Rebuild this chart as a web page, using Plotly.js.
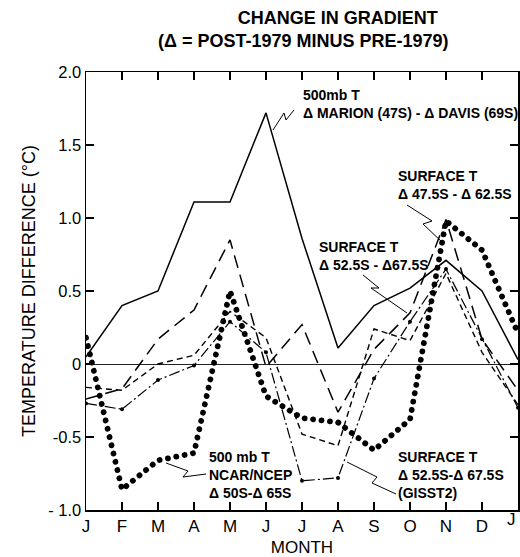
<!DOCTYPE html>
<html>
<head>
<meta charset="utf-8">
<script src="https://cdn.plot.ly/plotly-3.0.1.min.js"></script>
<style>
html,body{margin:0;padding:0;background:#fff;}
#chart{width:520px;height:557px;}
</style>
</head>
<body>
<div id="chart"></div>
<script>
// ---- data ----
const months = ['J','F','M','A','M','J','J','A','S','O','N','D','J'];
const monthIndex = [0,1,2,3,4,5,6,7,8,9,10,11,12];
const marionDavis500mb = [0.05, 0.40, 0.50, 1.11, 1.11, 1.72, 0.86, 0.11, 0.40, 0.52, 0.71, 0.50, 0.03];
const surface475_625   = [-0.24, -0.17, 0.17, 0.37, 0.85, -0.02, 0.27, -0.33, 0.10, 0.35, 0.99, 0.17, -0.18];
const surface525_675   = [-0.16, -0.18, 0.00, 0.06, 0.36, 0.18, -0.48, -0.56, 0.24, 0.16, 0.62, 0.08, -0.28];
const gisst2_525_675   = [-0.27, -0.31, -0.11, -0.01, 0.29, 0.08, -0.80, -0.78, -0.10, 0.29, 0.65, 0.17, -0.30];
const ncarNcep500mb    = [0.18, -0.86, -0.66, -0.61, 0.50, -0.22, -0.37, -0.40, -0.59, -0.38, 0.98, 0.78, 0.21];
const yTickVals = [2.0, 1.5, 1.0, 0.5, 0, -0.5, -1.0];
const yTickText = ['2.0', '1.5', '1.0', '0.5', '0', '-0.5', '- 1.0'];

// ---- layout geometry ----
const W = 520, H = 557;
const M = {l: 86, r: 2, t: 72, b: 47};
const plotW = W - M.l - M.r, plotH = H - M.t - M.b;
const xMin = 0, xMax = 12, yMin = -1, yMax = 2;
// pixel -> data helper for annotation leaders / label placement
function dx(px){ return xMin + (px - M.l) / plotW * (xMax - xMin); }
function dy(py){ return yMax - (py - M.t) / plotH * (yMax - yMin); }
function pathOf(pts){ return pts.map((p,i)=>(i?'L':'M')+dx(p[0]).toFixed(4)+','+dy(p[1]).toFixed(4)).join(' '); }

const FONT = 'Liberation Sans, Arial, Helvetica, sans-serif';
const BLK = '#000';

const traces = [
  {x: monthIndex, y: marionDavis500mb, mode: 'lines', name: '500mb T Δ MARION (47S) - Δ DAVIS (69S)',
   line: {color: BLK, width: 1.5}},
  {x: monthIndex, y: surface475_625, mode: 'lines', name: 'SURFACE T Δ 47.5S - Δ 62.5S',
   line: {color: BLK, width: 1.5, dash: '13px,7px'}},
  {x: monthIndex, y: surface525_675, mode: 'lines', name: 'SURFACE T Δ 52.5S - Δ67.5S',
   line: {color: BLK, width: 1.4, dash: '6px,4px'}},
  {x: monthIndex, y: gisst2_525_675, mode: 'lines+markers', name: 'SURFACE T Δ 52.5S-Δ 67.5S (GISST2)',
   line: {color: BLK, width: 1.2, dash: '11px,3px,2px,3px'}, marker: {color: BLK, size: 4}},
  {x: monthIndex, y: ncarNcep500mb, mode: 'lines', name: '500 mb T NCAR/NCEP Δ 50S-Δ 65S',
   line: {color: BLK, width: 5.8, dash: '0.1px,8.4px'}}
];

const annFont = {family: FONT, size: 14, color: BLK};
function lbl(text, px, py){
  return {text: text, x: dx(px), y: dy(py), xref: 'x', yref: 'y', xanchor: 'left', yanchor: 'middle',
          align: 'left', showarrow: false, font: annFont};
}

const annotations = [
  {text: '(Δ = POST-1979 MINUS PRE-1979)', xref: 'paper', yref: 'paper', x: (303 - M.l) / plotW, y: (H - M.b - 41) / plotH,
   xanchor: 'center', yanchor: 'middle', showarrow: false, font: {family: FONT, size: 18, color: BLK, weight: 'bold'}},
  lbl('<b>500mb T</b><br><b>Δ MARION (47S) - Δ DAVIS (69S)</b>', 301, 104),
  lbl('<b>SURFACE T</b><br><b>Δ 47.5S - Δ 62.5S</b>', 396, 185),
  lbl('<b>SURFACE T</b><br><b>Δ 52.5S - Δ67.5S</b>', 317, 256),
  lbl('<b>500 mb T</b><br><b>NCAR/NCEP</b><br><b>Δ 50S-Δ 65S</b>', 207, 475),
  lbl('<b>SURFACE T</b><br><b>Δ 52.5S-Δ 67.5S</b><br><b>(GISST2)</b>', 396, 475),
  // last month label at the right edge of the axis (kept fully inside the picture)
  {text: months[12], x: 1, xref: 'paper', y: (H - M.b - 519) / plotH, yref: 'paper',
   xanchor: 'right', yanchor: 'middle', showarrow: false, font: {family: FONT, size: 17, color: BLK}}
];

const leaderLine = {color: BLK, width: 1};
const shapes = [
  [[273,130],[284,113],[286,120],[294,110]],
  [[407,205],[432,221],[423,224],[442,242]],
  [[363,275],[379,288],[371,288],[407,313]],
  [[166,463],[188,471],[183,477],[206,474]],
  [[347,462],[377,477],[372,483],[396,494]]
].map(p => ({type: 'path', xref: 'x', yref: 'y', path: pathOf(p), line: leaderLine}));

const layout = {
  width: W, height: H,
  margin: M,
  paper_bgcolor: '#fff', plot_bgcolor: '#fff',
  showlegend: false,
  font: {family: FONT, color: BLK},
  title: {text: '<b>CHANGE IN GRADIENT</b>', x: (303) / W, xanchor: 'center', y: 1 - 18 / H, yanchor: 'middle',
          xref: 'paper', yref: 'container', font: {family: FONT, size: 18, color: BLK}},
  xaxis: {
    range: [xMin, xMax], tickvals: monthIndex.slice(0, 12), ticktext: months.slice(0, 12), showgrid: false, zeroline: false,
    showline: true, linecolor: BLK, linewidth: 1.5, mirror: 'ticks',
    ticks: 'inside', ticklen: 8, tickwidth: 1.3, tickcolor: BLK,
    tickfont: {family: FONT, size: 17, color: BLK},
    title: {text: 'MONTH', font: {family: FONT, size: 17, color: BLK}, standoff: 6}
  },
  yaxis: {
    range: [yMin, yMax], tickvals: yTickVals, ticktext: yTickText, showgrid: false,
    zeroline: true, zerolinecolor: '#222', zerolinewidth: 1,
    showline: true, linecolor: BLK, linewidth: 1.5, mirror: 'ticks',
    ticks: 'inside', ticklen: 8, tickwidth: 1.3, tickcolor: BLK,
    tickfont: {family: FONT, size: 16.5, color: BLK},
    title: {text: 'TEMPERATURE DIFFERENCE (°C)', font: {family: FONT, size: 18, color: BLK}, standoff: 8}
  },
  annotations: annotations,
  shapes: shapes
};

Plotly.newPlot('chart', traces, layout, {displayModeBar: false, staticPlot: true}).then(function(gd){
  const tr = gd.querySelectorAll('.scatterlayer .trace');
  const dotted = tr[4];
  if (dotted) dotted.querySelectorAll('path.js-line').forEach(p => { p.style.strokeLinecap = 'round'; });
});
</script>
</body>
</html>
